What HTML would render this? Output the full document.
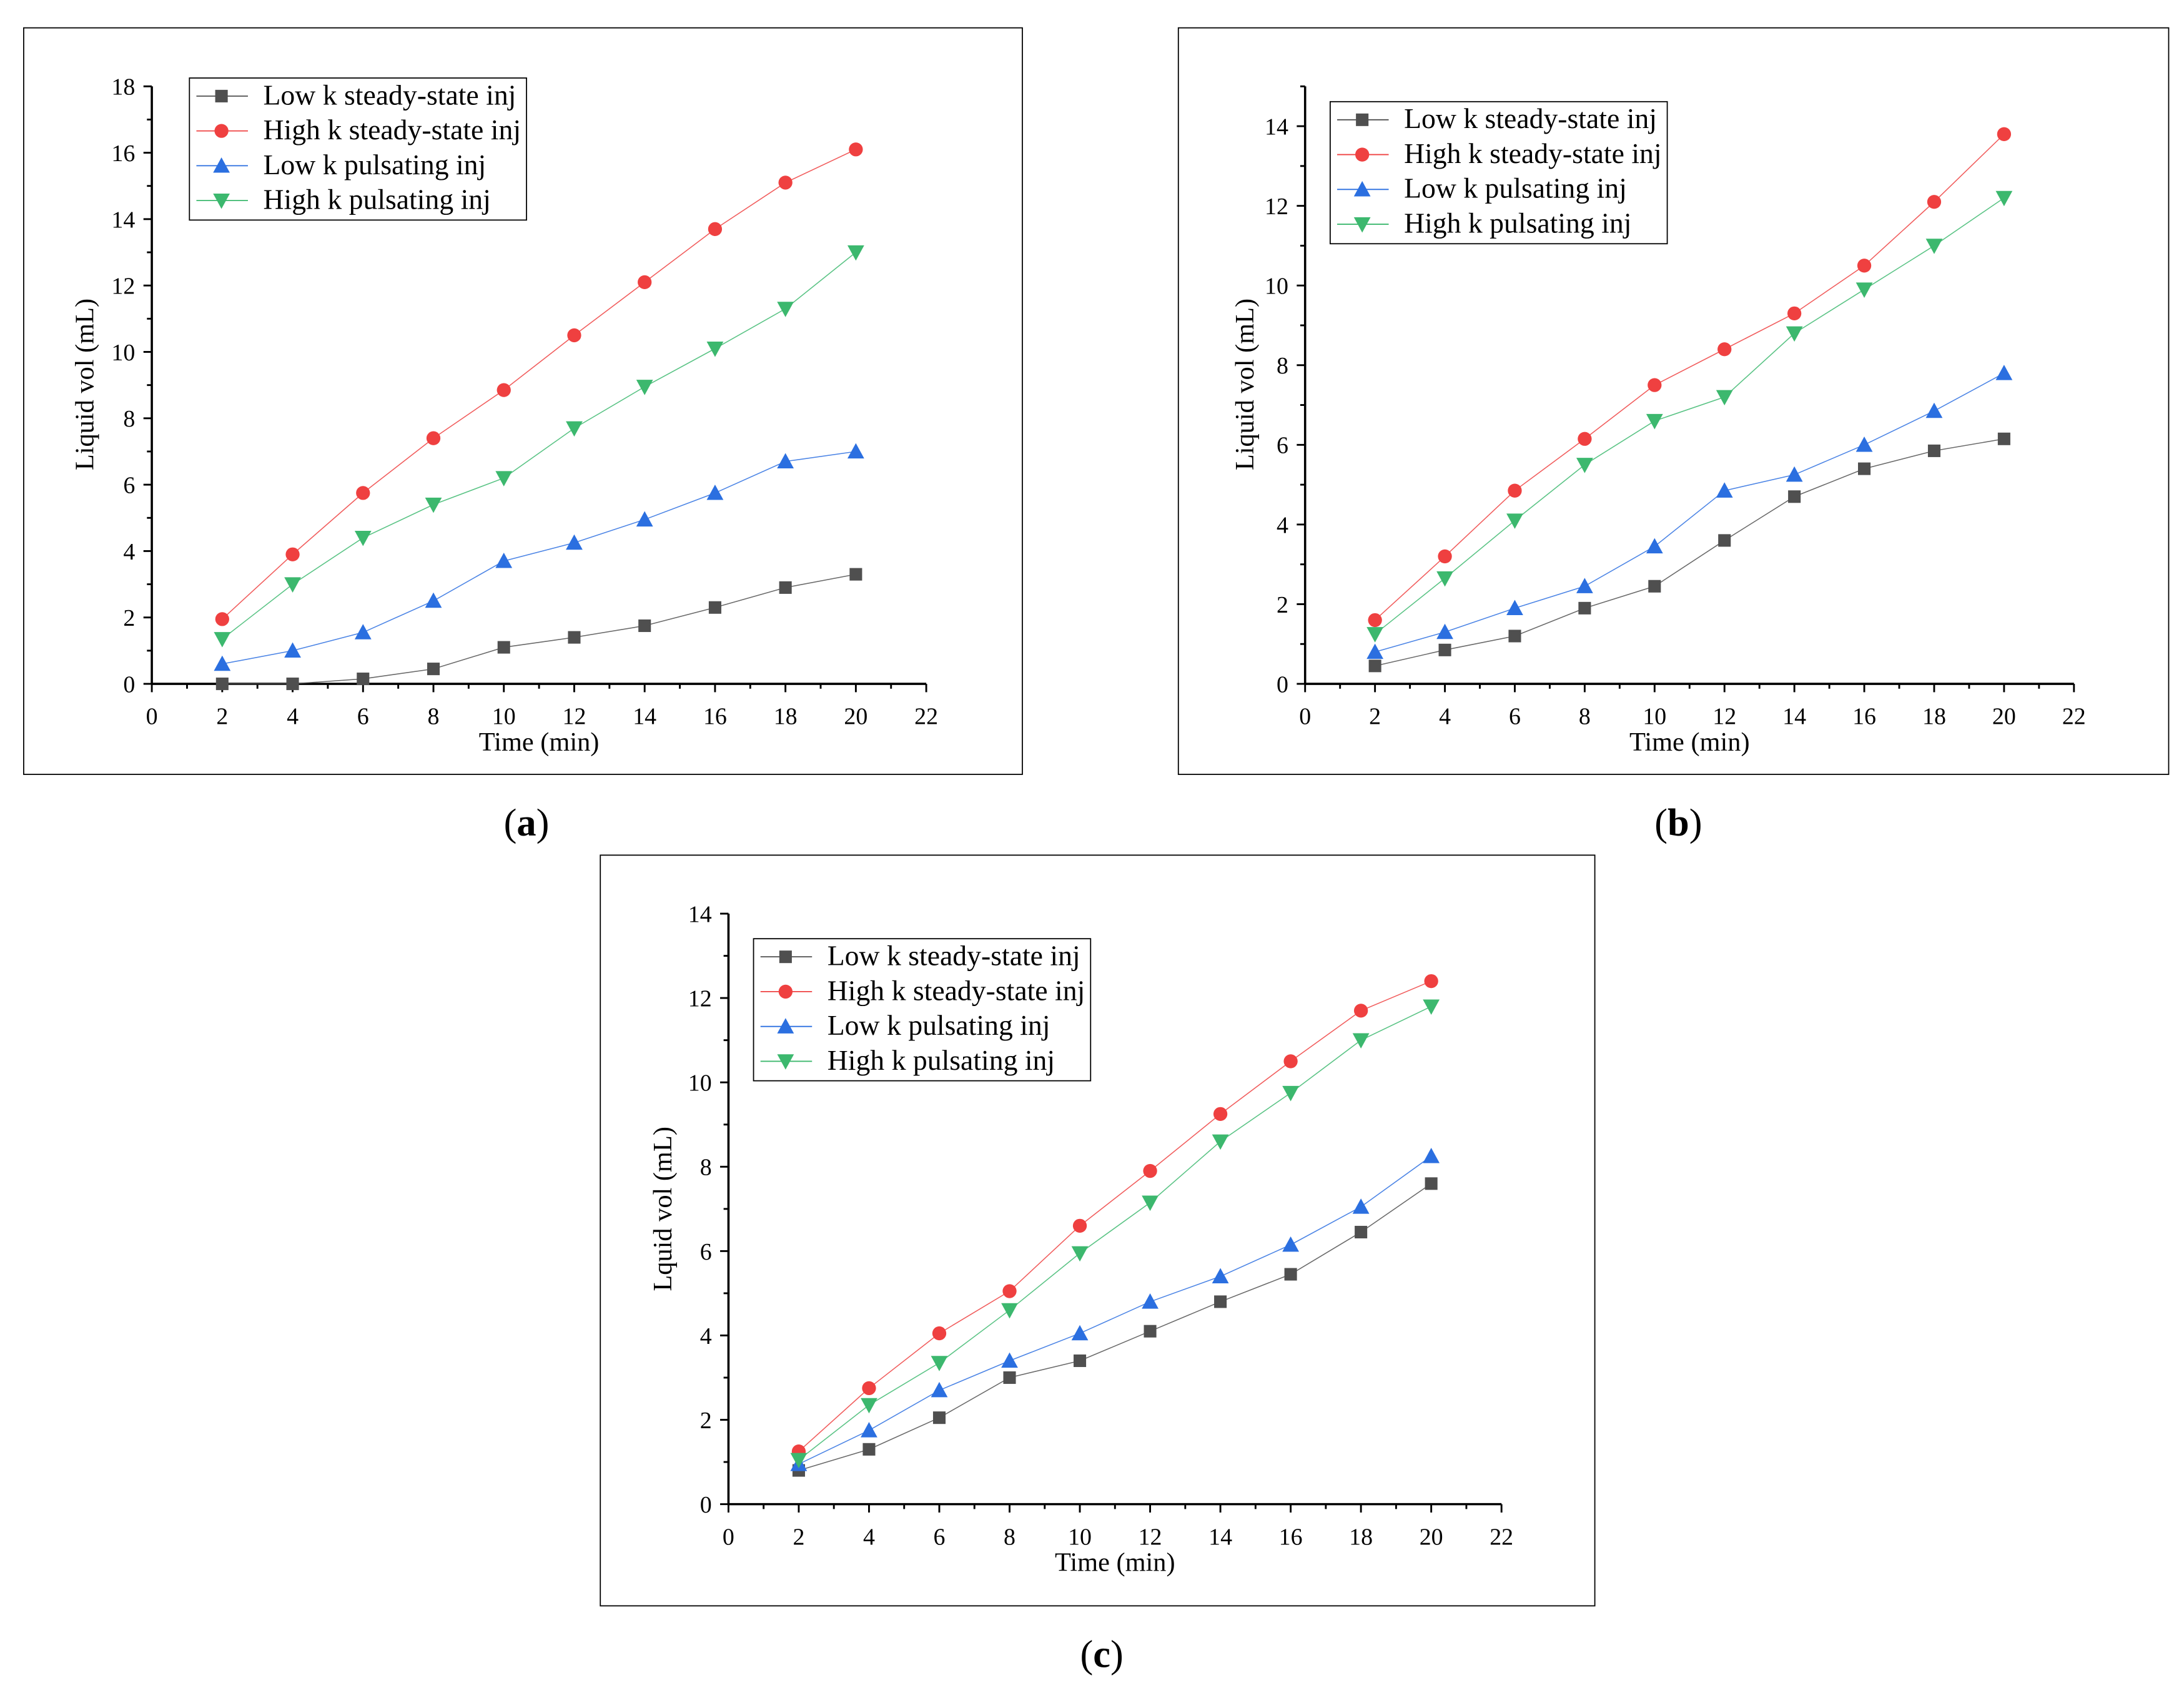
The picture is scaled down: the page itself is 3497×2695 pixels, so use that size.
<!DOCTYPE html>
<html><head><meta charset="utf-8"><style>
html,body{margin:0;padding:0;background:#fff;}
svg{display:block;}
text{font-family:"Liberation Serif",serif;fill:#000;}
</style></head><body>
<svg id="root" width="3497" height="2695" viewBox="0 0 1568 1208.4" xmlns="http://www.w3.org/2000/svg"></svg>
<script>
const xValues = [2,4,6,8,10,12,14,16,18,20];
const seriesNames = ["Low k steady-state inj","High k steady-state inj","Low k pulsating inj","High k pulsating inj"];
const aLowSteady = [0,0,0.15,0.45,1.1,1.4,1.75,2.3,2.9,3.3];
const aHighSteady = [1.95,3.9,5.75,7.4,8.85,10.5,12.1,13.7,15.1,16.1];
const aLowPuls = [0.6,1.0,1.55,2.5,3.7,4.25,4.95,5.75,6.7,7.0];
const aHighPuls = [1.35,3.0,4.4,5.4,6.2,7.7,8.95,10.1,11.3,13.0];
const bLowSteady = [0.45,0.85,1.2,1.9,2.45,3.6,4.7,5.4,5.85,6.15];
const bHighSteady = [1.6,3.2,4.85,6.15,7.5,8.4,9.3,10.5,12.1,13.8];
const bLowPuls = [0.8,1.3,1.9,2.45,3.45,4.85,5.25,6.0,6.85,7.8];
const bHighPuls = [1.25,2.65,4.1,5.5,6.6,7.2,8.8,9.9,11.0,12.2];
const cLowSteady = [0.8,1.3,2.05,3.0,3.4,4.1,4.8,5.45,6.45,7.6];
const cHighSteady = [1.25,2.75,4.05,5.05,6.6,7.9,9.25,10.5,11.7,12.4];
const cLowPuls = [0.95,1.75,2.7,3.4,4.05,4.8,5.4,6.15,7.05,8.25];
const cHighPuls = [1.05,2.35,3.35,4.6,5.95,7.15,8.6,9.75,11.0,11.8];
const xTicks = [0,2,4,6,8,10,12,14,16,18,20,22];
const aYTicks = [0,2,4,6,8,10,12,14,16,18];
const bYTicks = [0,2,4,6,8,10,12,14];
const cYTicks = [0,2,4,6,8,10,12,14];

const NS="http://www.w3.org/2000/svg";
const root=document.getElementById('root');
const colors=["#4f4f4f","#ef4040","#2b6fe0","#3cb86e"];
function mk(tag,attrs,parent){const e=document.createElementNS(NS,tag);for(const k in attrs)e.setAttribute(k,attrs[k]);(parent||root).appendChild(e);return e;}
function marker(g,type,x,y,c){
  let e;
  if(type===0){e=mk('rect',{x:x-4.5,y:y-4.5,width:9,height:9,fill:c},g);}
  else if(type===1){e=mk('circle',{cx:x,cy:y,r:5,fill:c},g);}
  else if(type===2){e=mk('polygon',{points:`${x},${y-6} ${x+6},${y+5} ${x-6},${y+5}`,fill:c},g);}
  else {e=mk('polygon',{points:`${x-6},${y-5} ${x+6},${y-5} ${x},${y+6}`,fill:c},g);}
  
  
  return e;
}
function chart(o){
  const g=mk('g',{});
  
  
  const fr=mk('rect',{x:o.fx,y:o.fy,width:o.fw,height:o.fh,fill:'none',stroke:'#000','stroke-width':0.8},g);
  
  const X=v=>o.x0+(v/22)*(o.x1-o.x0);
  const Y=v=>o.y0-(v/o.ymax)*(o.y0-o.ytop);
  const xa=mk('line',{x1:o.x0,y1:o.y0,x2:o.x1,y2:o.y0,stroke:'#000','stroke-width':1.6},g);
  
  const ya=mk('line',{x1:o.x0,y1:o.y0,x2:o.x0,y2:o.ytop,stroke:'#000','stroke-width':1.6},g);
  
  for(let v=0;v<=22;v++){const major=v%2===0;mk('line',{x1:X(v),y1:o.y0,x2:X(v),y2:o.y0+(major?6:3.5),stroke:'#000','stroke-width':1.3},g);}
  xTicks.forEach(v=>{const t=mk('text',{x:X(v),y:o.y0+29,'font-size':17,'text-anchor':'middle'},g);t.textContent=v;
    });
  for(let v=0;v<=o.ymax+0.001;v+=1){const major=v%2===0;mk('line',{x1:o.x0,y1:Y(v),x2:o.x0-(major?6:3.5),y2:Y(v),stroke:'#000','stroke-width':1.3},g);}
  o.yTicks.forEach(v=>{const t=mk('text',{x:o.x0-12,y:Y(v)+6,'font-size':17,'text-anchor':'end'},g);t.textContent=v;
    });
  const xt=mk('text',{x:(o.x0+o.x1)/2,y:o.y0+48,'font-size':19,'text-anchor':'middle'},g);xt.textContent='Time (min)';
  
  const yt=mk('text',{x:0,y:0,'font-size':19,'text-anchor':'middle',transform:`translate(${o.ytx},${o.yty}) rotate(-90)`},g);yt.textContent=o.ylabel;
  
  o.series.forEach((s,i)=>{
    const pts=xValues.map((x,j)=>X(x)+','+Y(s[j])).join(' ');
    const pl=mk('polyline',{points:pts,fill:'none',stroke:colors[i],'stroke-width':0.7,opacity:0.85},g);
    
    xValues.forEach((x,j)=>marker(g,i,X(x),Y(s[j]),colors[i]));
  });
  const lg=mk('g',{},g);
  mk('rect',{x:o.lx,y:o.ly,width:242,height:102,fill:'#fff',stroke:'#000','stroke-width':0.8},lg);
  seriesNames.forEach((n,i)=>{
    const yy=o.ly+13+i*25;
    mk('line',{x1:o.lx+5,y1:yy,x2:o.lx+42,y2:yy,stroke:colors[i],'stroke-width':0.8},lg);
    marker(lg,i,o.lx+23,yy,colors[i]);
    const t=mk('text',{x:o.lx+53,y:yy+6,'font-size':20.5},lg);t.textContent=n;
    
  });
  const cap=mk('text',{x:o.cx,y:o.cy,'font-size':28,'text-anchor':'middle'},g);
  cap.innerHTML='(<tspan font-weight="bold">'+o.id+'</tspan>)';
  
}
chart({id:'a',fx:17,fy:20,fw:717,fh:536,x0:109,x1:665,y0:491,ytop:62,ymax:18,yTicks:aYTicks,ylabel:'Liquid vol (mL)',ytx:67,yty:276,
  series:[aLowSteady,aHighSteady,aLowPuls,aHighPuls],lx:136,ly:56,cx:378,cy:600});
chart({id:'b',fx:846,fy:20,fw:711,fh:536,x0:937,x1:1489,y0:491,ytop:62,ymax:15,yTicks:bYTicks,ylabel:'Liquid vol (mL)',ytx:900,yty:276,
  series:[bLowSteady,bHighSteady,bLowPuls,bHighPuls],lx:955,ly:73,cx:1205,cy:600});
chart({id:'c',fx:431,fy:614,fw:714,fh:539,x0:523,x1:1078,y0:1080,ytop:656,ymax:14,yTicks:cYTicks,ylabel:'Lquid vol (mL)',ytx:482,yty:868,
  series:[cLowSteady,cHighSteady,cLowPuls,cHighPuls],lx:541,ly:674,cx:791,cy:1197});
</script>
</body></html>
